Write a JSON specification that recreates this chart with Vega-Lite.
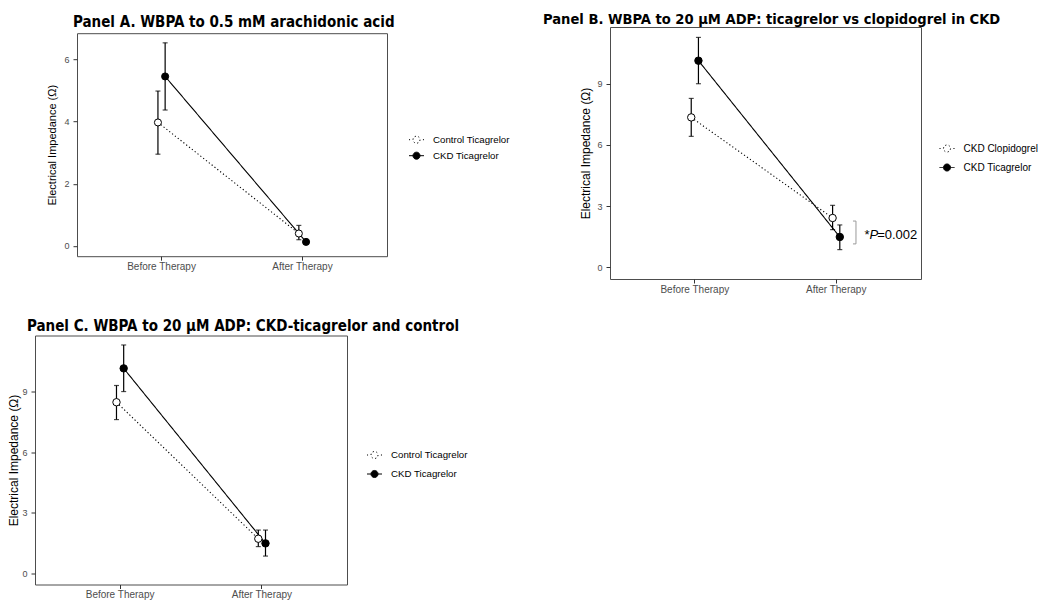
{
  "$schema": "https://vega.github.io/schema/vega-lite/v6.json",
  "background": "white",
  "padding": {"left": 7, "top": 11, "right": 0, "bottom": 0},
  "datasets": {
    "A": [
      {"time": "Before Therapy", "group": "Control Ticagrelor", "mean": 3.97, "lo": 2.95, "hi": 4.98},
      {"time": "After Therapy", "group": "Control Ticagrelor", "mean": 0.40, "lo": 0.20, "hi": 0.66},
      {"time": "Before Therapy", "group": "CKD Ticagrelor", "mean": 5.45, "lo": 4.37, "hi": 6.53},
      {"time": "After Therapy", "group": "CKD Ticagrelor", "mean": 0.13, "lo": 0.09, "hi": 0.17}
    ],
    "B": [
      {"time": "Before Therapy", "group": "CKD Clopidogrel", "mean": 7.35, "lo": 6.42, "hi": 8.28},
      {"time": "After Therapy", "group": "CKD Clopidogrel", "mean": 2.42, "lo": 1.85, "hi": 3.04},
      {"time": "Before Therapy", "group": "CKD Ticagrelor", "mean": 10.13, "lo": 9.0, "hi": 11.27},
      {"time": "After Therapy", "group": "CKD Ticagrelor", "mean": 1.49, "lo": 0.87, "hi": 2.08}
    ],
    "C": [
      {"time": "Before Therapy", "group": "Control Ticagrelor", "mean": 8.47, "lo": 7.61, "hi": 9.30},
      {"time": "After Therapy", "group": "Control Ticagrelor", "mean": 1.70, "lo": 1.31, "hi": 2.13},
      {"time": "Before Therapy", "group": "CKD Ticagrelor", "mean": 10.15, "lo": 9.0, "hi": 11.31},
      {"time": "After Therapy", "group": "CKD Ticagrelor", "mean": 1.47, "lo": 0.84, "hi": 2.13}
    ],
    "annotB": [
      {"time": "After Therapy", "top": 2.27, "bottom": 1.15, "label_y": 1.37}
    ]
  },
  "config": {
    "font": "Liberation Sans",
    "view": {"stroke": "#4d4d4d", "strokeWidth": 1},
    "axis": {"domain": false, "grid": false, "tickColor": "#333333", "tickSize": 4, "labelColor": "#4d4d4d", "labelFont": "Liberation Sans", "titleFont": "Liberation Sans", "titleFontWeight": "normal", "titleColor": "black"},
    "axisX": {"labelFontSize": 10, "labelPadding": 1, "labelAngle": 0},
    "axisY": {"labelFontSize": 9, "labelPadding": 4},
    "title": {"font": "DejaVu Sans Condensed", "fontSize": 15, "fontWeight": "bold", "anchor": "start", "frame": "group", "color": "black"},
    "legend": {"padding": 0, "labelFont": "Liberation Sans", "labelColor": "black", "symbolSize": 225, "symbolStrokeWidth": 1, "symbolStrokeColor": "black", "labelOffset": 8.5}
  },
  "spacing": 22.5,
  "resolve": {"scale": {"fill": "independent", "strokeDash": "independent", "xOffset": "independent"}},
  "vconcat": [
    {
      "spacing": 31,
      "resolve": {"scale": {"fill": "independent", "strokeDash": "independent", "xOffset": "independent"}},
      "hconcat": [
        {
          "spacing": 10,
          "resolve": {"scale": {"fill": "independent", "strokeDash": "independent", "xOffset": "independent"}},
          "hconcat": [
            {"width": 1, "height": 1, "data": {"values": []}, "mark": {"type": "point"}, "encoding": {}, "view": {"stroke": null}},
            {
              "spacing": 1.2,
              "resolve": {"scale": {"fill": "independent", "strokeDash": "independent", "xOffset": "independent"}},
              "vconcat": [
                {"width": 310, "height": 1, "title": {"text": "Panel A. WBPA to 0.5 mM arachidonic acid", "dx": -4, "offset": -3.4}, "data": {"values": []}, "mark": {"type": "point"}, "encoding": {}, "view": {"stroke": null}},
                {
                  "width": 310, "height": 223,
                  "data": {"name": "A"},
                  "layer": [
                    {
                      "mark": {"type": "line", "color": "black", "strokeWidth": 1.1},
                      "encoding": {
                        "x": {"field": "time", "type": "nominal", "sort": ["Before Therapy", "After Therapy"], "scale": {"type": "band", "paddingInner": 0, "paddingOuter": 0.1}, "axis": {"title": null}},
                        "xOffset": {"field": "group", "type": "nominal", "scale": {"type": "band", "paddingInner": 0, "paddingOuter": 0, "range": [63.25, 77.65], "domain": ["Control Ticagrelor", "CKD Ticagrelor"]}},
                        "y": {"field": "mean", "type": "quantitative", "title": "Electrical Impedance (Ω)", "scale": {"domain": [-0.33, 6.84], "nice": false, "zero": false}, "axis": {"values": [0, 2, 4, 6], "titleFontSize": 11, "titlePadding": 6}},
                        "strokeDash": {"field": "group", "type": "nominal", "scale": {"domain": ["Control Ticagrelor", "CKD Ticagrelor"], "range": [[1.2, 2.4], [1, 0]]},
                          "legend": {"title": null, "orient": "none", "legendX": 331.5, "legendY": 98.5, "labelFontSize": 9.7, "rowPadding": 2,
                            "encode": {"symbols": {"update": {"stroke": {"value": "black"}, "strokeWidth": {"value": 1}, "strokeDash": {"value": [1, 0]}, "shape": {"signal": "datum.index === 0 ? 'M-1,0L-0.86,0M0.86,0L1,0M0.47,0A0.47,0.47,0,1,1,-0.47,0A0.47,0.47,0,1,1,0.47,0Z' : 'M-1,0L-0.47,0M0.47,0L1,0M0.47,0A0.47,0.47,0,1,1,-0.47,0A0.47,0.47,0,1,1,0.47,0Z'"}}}}}}
                      }
                    },
                    {
                      "mark": {"type": "rule", "color": "black", "strokeWidth": 1.2},
                      "encoding": {
                        "x": {"field": "time", "type": "nominal", "sort": ["Before Therapy", "After Therapy"]},
                        "xOffset": {"field": "group", "type": "nominal"},
                        "y": {"field": "lo", "type": "quantitative", "title": "Electrical Impedance (Ω)"},
                        "y2": {"field": "hi"}
                      }
                    },
                    {
                      "mark": {"type": "tick", "color": "black", "size": 5, "thickness": 1.2},
                      "encoding": {
                        "x": {"field": "time", "type": "nominal", "sort": ["Before Therapy", "After Therapy"]},
                        "xOffset": {"field": "group", "type": "nominal"},
                        "y": {"field": "lo", "type": "quantitative", "title": "Electrical Impedance (Ω)"}
                      }
                    },
                    {
                      "mark": {"type": "tick", "color": "black", "size": 5, "thickness": 1.2},
                      "encoding": {
                        "x": {"field": "time", "type": "nominal", "sort": ["Before Therapy", "After Therapy"]},
                        "xOffset": {"field": "group", "type": "nominal"},
                        "y": {"field": "hi", "type": "quantitative", "title": "Electrical Impedance (Ω)"}
                      }
                    },
                    {
                      "mark": {"type": "point", "shape": "circle", "filled": true, "size": 50, "stroke": "black", "strokeWidth": 1, "opacity": 1},
                      "encoding": {
                        "x": {"field": "time", "type": "nominal", "sort": ["Before Therapy", "After Therapy"]},
                        "xOffset": {"field": "group", "type": "nominal"},
                        "y": {"field": "mean", "type": "quantitative", "title": "Electrical Impedance (Ω)"},
                        "fill": {"field": "group", "type": "nominal", "scale": {"domain": ["Control Ticagrelor", "CKD Ticagrelor"], "range": ["white", "black"]},
                          "legend": {"title": null, "orient": "none", "legendX": 331.5, "legendY": 98.5, "labelFontSize": 9.7, "rowPadding": 2,
                            "encode": {"symbols": {"update": {"stroke": {"value": "black"}, "strokeWidth": {"value": 1}, "strokeDash": {"value": [1, 0]}, "shape": {"signal": "datum.index === 0 ? 'M-1,0L-0.86,0M0.86,0L1,0M0.47,0A0.47,0.47,0,1,1,-0.47,0A0.47,0.47,0,1,1,0.47,0Z' : 'M-1,0L-0.47,0M0.47,0L1,0M0.47,0A0.47,0.47,0,1,1,-0.47,0A0.47,0.47,0,1,1,0.47,0Z'"}}}}}}
                      }
                    }
                  ]
                }
              ]
            }
          ]
        },
        {
          "width": 311, "height": 252,
          "title": {"text": "Panel B. WBPA to 20 µM ADP: ticagrelor vs clopidogrel in CKD", "dx": -67, "offset": 0.6, "fontSize": 14.6},
          "layer": [
            {
              "data": {"name": "B"},
              "mark": {"type": "line", "color": "black", "strokeWidth": 1.1},
              "encoding": {
                "x": {"field": "time", "type": "nominal", "sort": ["Before Therapy", "After Therapy"], "scale": {"type": "band", "paddingInner": 0, "paddingOuter": 0.1}, "axis": {"title": null}},
                "xOffset": {"field": "group", "type": "nominal", "scale": {"type": "band", "paddingInner": 0, "paddingOuter": 0, "range": [63.5, 77.9], "domain": ["CKD Clopidogrel", "CKD Ticagrelor"]}},
                "y": {"field": "mean", "type": "quantitative", "title": "Electrical Impedance (Ω)", "scale": {"domain": [-0.57, 11.78], "nice": false, "zero": false}, "axis": {"values": [0, 3, 6, 9], "titleFontSize": 12, "titlePadding": 4}},
                "strokeDash": {"field": "group", "type": "nominal", "scale": {"domain": ["CKD Clopidogrel", "CKD Ticagrelor"], "range": [[1.2, 2.4], [1, 0]]},
                  "legend": {"title": null, "orient": "none", "legendX": 329, "legendY": 113.5, "labelFontSize": 10, "rowPadding": 5,
                    "encode": {"symbols": {"update": {"stroke": {"value": "black"}, "strokeWidth": {"value": 1}, "strokeDash": {"value": [1, 0]}, "shape": {"signal": "datum.index === 0 ? 'M-1,0L-0.86,0M0.86,0L1,0M0.47,0A0.47,0.47,0,1,1,-0.47,0A0.47,0.47,0,1,1,0.47,0Z' : 'M-1,0L-0.47,0M0.47,0L1,0M0.47,0A0.47,0.47,0,1,1,-0.47,0A0.47,0.47,0,1,1,0.47,0Z'"}}}}}}
              }
            },
            {
              "data": {"name": "B"},
              "mark": {"type": "rule", "color": "black", "strokeWidth": 1.2},
              "encoding": {
                "x": {"field": "time", "type": "nominal", "sort": ["Before Therapy", "After Therapy"]},
                "xOffset": {"field": "group", "type": "nominal"},
                "y": {"field": "lo", "type": "quantitative", "title": "Electrical Impedance (Ω)"},
                "y2": {"field": "hi"}
              }
            },
            {
              "data": {"name": "B"},
              "mark": {"type": "tick", "color": "black", "size": 5, "thickness": 1.2},
              "encoding": {
                "x": {"field": "time", "type": "nominal", "sort": ["Before Therapy", "After Therapy"]},
                "xOffset": {"field": "group", "type": "nominal"},
                "y": {"field": "lo", "type": "quantitative", "title": "Electrical Impedance (Ω)"}
              }
            },
            {
              "data": {"name": "B"},
              "mark": {"type": "tick", "color": "black", "size": 5, "thickness": 1.2},
              "encoding": {
                "x": {"field": "time", "type": "nominal", "sort": ["Before Therapy", "After Therapy"]},
                "xOffset": {"field": "group", "type": "nominal"},
                "y": {"field": "hi", "type": "quantitative", "title": "Electrical Impedance (Ω)"}
              }
            },
            {
              "data": {"name": "B"},
              "mark": {"type": "point", "shape": "circle", "filled": true, "size": 55, "stroke": "black", "strokeWidth": 1, "opacity": 1},
              "encoding": {
                "x": {"field": "time", "type": "nominal", "sort": ["Before Therapy", "After Therapy"]},
                "xOffset": {"field": "group", "type": "nominal"},
                "y": {"field": "mean", "type": "quantitative", "title": "Electrical Impedance (Ω)"},
                "fill": {"field": "group", "type": "nominal", "scale": {"domain": ["CKD Clopidogrel", "CKD Ticagrelor"], "range": ["white", "black"]},
                  "legend": {"title": null, "orient": "none", "legendX": 329, "legendY": 113.5, "labelFontSize": 10, "rowPadding": 5,
                    "encode": {"symbols": {"update": {"stroke": {"value": "black"}, "strokeWidth": {"value": 1}, "strokeDash": {"value": [1, 0]}, "shape": {"signal": "datum.index === 0 ? 'M-1,0L-0.86,0M0.86,0L1,0M0.47,0A0.47,0.47,0,1,1,-0.47,0A0.47,0.47,0,1,1,0.47,0Z' : 'M-1,0L-0.47,0M0.47,0L1,0M0.47,0A0.47,0.47,0,1,1,-0.47,0A0.47,0.47,0,1,1,0.47,0Z'"}}}}}}
              }
            },
            {
              "data": {"name": "annotB"},
              "mark": {"type": "rule", "color": "#9a9a9a", "strokeWidth": 1},
              "encoding": {
                "x": {"field": "time", "type": "nominal", "sort": ["Before Therapy", "After Therapy"], "bandPosition": 0.64},
                "y": {"field": "top", "type": "quantitative", "title": "Electrical Impedance (Ω)"},
                "y2": {"field": "bottom"}
              }
            },
            {
              "data": {"name": "annotB"},
              "mark": {"type": "point", "shape": "M-1,0L0,0", "filled": false, "size": 36, "stroke": "#9a9a9a", "strokeWidth": 1, "opacity": 1},
              "encoding": {
                "x": {"field": "time", "type": "nominal", "sort": ["Before Therapy", "After Therapy"], "bandPosition": 0.64},
                "y": {"field": "top", "type": "quantitative", "title": "Electrical Impedance (Ω)"}
              }
            },
            {
              "data": {"name": "annotB"},
              "mark": {"type": "point", "shape": "M-1,0L0,0", "filled": false, "size": 36, "stroke": "#9a9a9a", "strokeWidth": 1, "opacity": 1},
              "encoding": {
                "x": {"field": "time", "type": "nominal", "sort": ["Before Therapy", "After Therapy"], "bandPosition": 0.64},
                "y": {"field": "bottom", "type": "quantitative", "title": "Electrical Impedance (Ω)"}
              }
            },
            {
              "data": {"name": "annotB"},
              "mark": {"type": "text", "text": "*", "align": "left", "baseline": "alphabetic", "fontSize": 13, "font": "Liberation Sans", "color": "black"},
              "encoding": {
                "x": {"field": "time", "type": "nominal", "sort": ["Before Therapy", "After Therapy"], "bandPosition": 0.70},
                "y": {"field": "label_y", "type": "quantitative", "title": "Electrical Impedance (Ω)"}
              }
            },
            {
              "data": {"name": "annotB"},
              "mark": {"type": "text", "text": "P", "align": "left", "baseline": "alphabetic", "fontSize": 13, "fontStyle": "italic", "font": "Liberation Sans", "color": "black"},
              "encoding": {
                "x": {"field": "time", "type": "nominal", "sort": ["Before Therapy", "After Therapy"], "bandPosition": 0.735},
                "y": {"field": "label_y", "type": "quantitative", "title": "Electrical Impedance (Ω)"}
              }
            },
            {
              "data": {"name": "annotB"},
              "mark": {"type": "text", "text": "=0.002", "align": "left", "baseline": "alphabetic", "fontSize": 13, "font": "Liberation Sans", "color": "black"},
              "encoding": {
                "x": {"field": "time", "type": "nominal", "sort": ["Before Therapy", "After Therapy"], "bandPosition": 0.79},
                "y": {"field": "label_y", "type": "quantitative", "title": "Electrical Impedance (Ω)"}
              }
            }
          ]
        }
      ]
    },
    {
      "width": 312, "height": 249,
      "title": {"text": "Panel C. WBPA to 20 µM ADP: CKD-ticagrelor and control", "dx": -8, "offset": 2},
      "data": {"name": "C"},
      "layer": [
        {
          "mark": {"type": "line", "color": "black", "strokeWidth": 1.1},
          "encoding": {
            "x": {"field": "time", "type": "nominal", "sort": ["Before Therapy", "After Therapy"], "scale": {"type": "band", "paddingInner": 0, "paddingOuter": 0.1}, "axis": {"title": null}},
            "xOffset": {"field": "group", "type": "nominal", "scale": {"type": "band", "paddingInner": 0, "paddingOuter": 0, "range": [63.7, 78.1], "domain": ["Control Ticagrelor", "CKD Ticagrelor"]}},
            "y": {"field": "mean", "type": "quantitative", "title": "Electrical Impedance (Ω)", "scale": {"domain": [-0.57, 11.78], "nice": false, "zero": false}, "axis": {"values": [0, 3, 6, 9], "titleFontSize": 12, "titlePadding": 1}},
            "strokeDash": {"field": "group", "type": "nominal", "scale": {"domain": ["Control Ticagrelor", "CKD Ticagrelor"], "range": [[1.2, 2.4], [1, 0]]},
              "legend": {"title": null, "orient": "none", "legendX": 331.5, "legendY": 111.5, "labelFontSize": 9.7, "rowPadding": 5,
                "encode": {"symbols": {"update": {"stroke": {"value": "black"}, "strokeWidth": {"value": 1}, "strokeDash": {"value": [1, 0]}, "shape": {"signal": "datum.index === 0 ? 'M-1,0L-0.86,0M0.86,0L1,0M0.47,0A0.47,0.47,0,1,1,-0.47,0A0.47,0.47,0,1,1,0.47,0Z' : 'M-1,0L-0.47,0M0.47,0L1,0M0.47,0A0.47,0.47,0,1,1,-0.47,0A0.47,0.47,0,1,1,0.47,0Z'"}}}}}}
          }
        },
        {
          "mark": {"type": "rule", "color": "black", "strokeWidth": 1.2},
          "encoding": {
            "x": {"field": "time", "type": "nominal", "sort": ["Before Therapy", "After Therapy"]},
            "xOffset": {"field": "group", "type": "nominal"},
            "y": {"field": "lo", "type": "quantitative", "title": "Electrical Impedance (Ω)"},
            "y2": {"field": "hi"}
          }
        },
        {
          "mark": {"type": "tick", "color": "black", "size": 5, "thickness": 1.2},
          "encoding": {
            "x": {"field": "time", "type": "nominal", "sort": ["Before Therapy", "After Therapy"]},
            "xOffset": {"field": "group", "type": "nominal"},
            "y": {"field": "lo", "type": "quantitative", "title": "Electrical Impedance (Ω)"}
          }
        },
        {
          "mark": {"type": "tick", "color": "black", "size": 5, "thickness": 1.2},
          "encoding": {
            "x": {"field": "time", "type": "nominal", "sort": ["Before Therapy", "After Therapy"]},
            "xOffset": {"field": "group", "type": "nominal"},
            "y": {"field": "hi", "type": "quantitative", "title": "Electrical Impedance (Ω)"}
          }
        },
        {
          "mark": {"type": "point", "shape": "circle", "filled": true, "size": 55, "stroke": "black", "strokeWidth": 1, "opacity": 1},
          "encoding": {
            "x": {"field": "time", "type": "nominal", "sort": ["Before Therapy", "After Therapy"]},
            "xOffset": {"field": "group", "type": "nominal"},
            "y": {"field": "mean", "type": "quantitative", "title": "Electrical Impedance (Ω)"},
            "fill": {"field": "group", "type": "nominal", "scale": {"domain": ["Control Ticagrelor", "CKD Ticagrelor"], "range": ["white", "black"]},
              "legend": {"title": null, "orient": "none", "legendX": 331.5, "legendY": 111.5, "labelFontSize": 9.7, "rowPadding": 5,
                "encode": {"symbols": {"update": {"stroke": {"value": "black"}, "strokeWidth": {"value": 1}, "strokeDash": {"value": [1, 0]}, "shape": {"signal": "datum.index === 0 ? 'M-1,0L-0.86,0M0.86,0L1,0M0.47,0A0.47,0.47,0,1,1,-0.47,0A0.47,0.47,0,1,1,0.47,0Z' : 'M-1,0L-0.47,0M0.47,0L1,0M0.47,0A0.47,0.47,0,1,1,-0.47,0A0.47,0.47,0,1,1,0.47,0Z'"}}}}}}
          }
        }
      ]
    }
  ]
}
